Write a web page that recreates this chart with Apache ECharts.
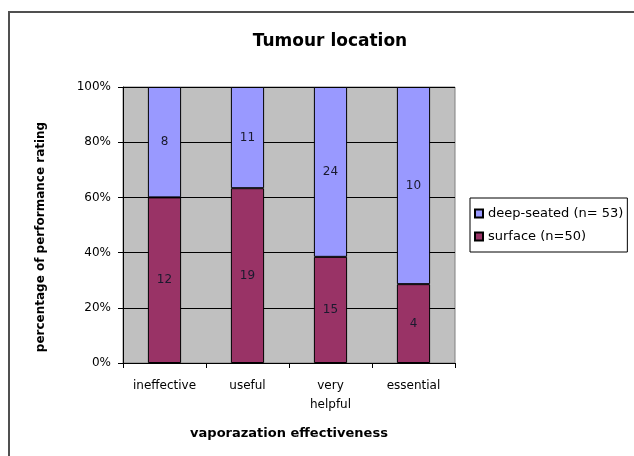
<!DOCTYPE html>
<html>
<head>
<meta charset="utf-8">
<script src="https://cdn.jsdelivr.net/npm/echarts@6/dist/echarts.min.js"></script>
<style>
  html, body { margin: 0; padding: 0; background: #fff; }
  #frame { position: absolute; left: 8px; top: 11px; width: 640px; height: 460px;
           border: 2px solid #505050; box-sizing: border-box; }
  #chart { position: absolute; left: 0; top: 0; width: 634px; height: 456px; }
</style>
</head>
<body>
<div id="frame"></div>
<div id="chart"></div>
<script>
  // categories and counts per tumour location
  var categories = ['ineffective', 'useful', 'very\nhelpful', 'essential']
  var surfaceCounts = [12, 19, 15, 4]
  var deepCounts = [8, 11, 24, 10]
  var yTicks = [0, 20, 40, 60, 80, 100]

  // share of each category, in percent
  function share (a, b) {
    return a.map(function (v, i) { return v / (v + b[i]) * 100 })
  }
  var surfacePct = share(surfaceCounts, deepCounts)
  var deepPct = share(deepCounts, surfaceCounts)

  var font = '"DejaVu Sans", Arial, sans-serif'
  var chart = echarts.init(document.getElementById('chart'))

  function labelFor (counts) {
    return {
      show: true,
      position: 'inside',
      color: '#1a1a2e',
      fontSize: 12,
      fontFamily: font,
      formatter: function (p) { return counts[p.dataIndex] }
    }
  }

  chart.setOption({
    animation: false,
    title: {
      text: 'Tumour location',
      left: 325,
      textAlign: 'center',
      top: 28,
      textStyle: { fontFamily: font, fontSize: 17, fontWeight: 'bold', color: '#000' }
    },
    legend: {
      data: ['deep-seated (n= 53)', 'surface (n=50)'],
      orient: 'vertical',
      left: 470,
      top: 198,
      width: 162,
      padding: [9, 4, 9, 4],
      itemGap: 10,
      itemWidth: 8,
      itemHeight: 8,
      icon: 'rect',
      borderColor: '#000',
      borderWidth: 1,
      textStyle: { fontFamily: font, fontSize: 13, color: '#000' }
    },
    grid: {
      left: 123,
      top: 87,
      width: 332,
      height: 276,
      show: true,
      backgroundColor: '#C0C0C0',
      borderColor: '#808080',
      borderWidth: 1
    },
    xAxis: {
      type: 'category',
      data: categories,
      name: 'vaporazation effectiveness',
      nameLocation: 'middle',
      nameGap: 64,
      nameTextStyle: { fontFamily: font, fontSize: 13, fontWeight: 'bold', color: '#000' },
      axisLine: { lineStyle: { color: '#000', width: 1 } },
      axisTick: { show: true, length: 5, lineStyle: { color: '#000' } },
      axisLabel: { fontFamily: font, fontSize: 12, color: '#000', margin: 13, lineHeight: 19, interval: 0 }
    },
    yAxis: {
      type: 'value',
      min: yTicks[0],
      max: yTicks[yTicks.length - 1],
      interval: yTicks[1] - yTicks[0],
      name: 'percentage of performance rating',
      nameLocation: 'middle',
      nameGap: 76,
      nameTextStyle: { fontFamily: font, fontSize: 12, fontWeight: 'bold', color: '#000', padding: [0, 24, 0, 0] },
      axisLine: { show: true, lineStyle: { color: '#000', width: 1 } },
      axisTick: { show: true, length: 5, lineStyle: { color: '#000' } },
      splitLine: { show: true, lineStyle: { color: '#000', width: 1 } },
      axisLabel: { fontFamily: font, fontSize: 12, color: '#000', margin: 12, formatter: '{value}%' }
    },
    series: [
      {
        name: 'surface (n=50)',
        type: 'bar',
        stack: 'all',
        barWidth: '40%',
        data: surfacePct,
        itemStyle: { color: '#993366', borderColor: '#000', borderWidth: 1 },
        label: labelFor(surfaceCounts)
      },
      {
        name: 'deep-seated (n= 53)',
        type: 'bar',
        stack: 'all',
        barWidth: '40%',
        data: deepPct,
        itemStyle: { color: '#9999FF', borderColor: '#000', borderWidth: 1 },
        label: labelFor(deepCounts)
      }
    ]
  })
</script>
</body>
</html>
